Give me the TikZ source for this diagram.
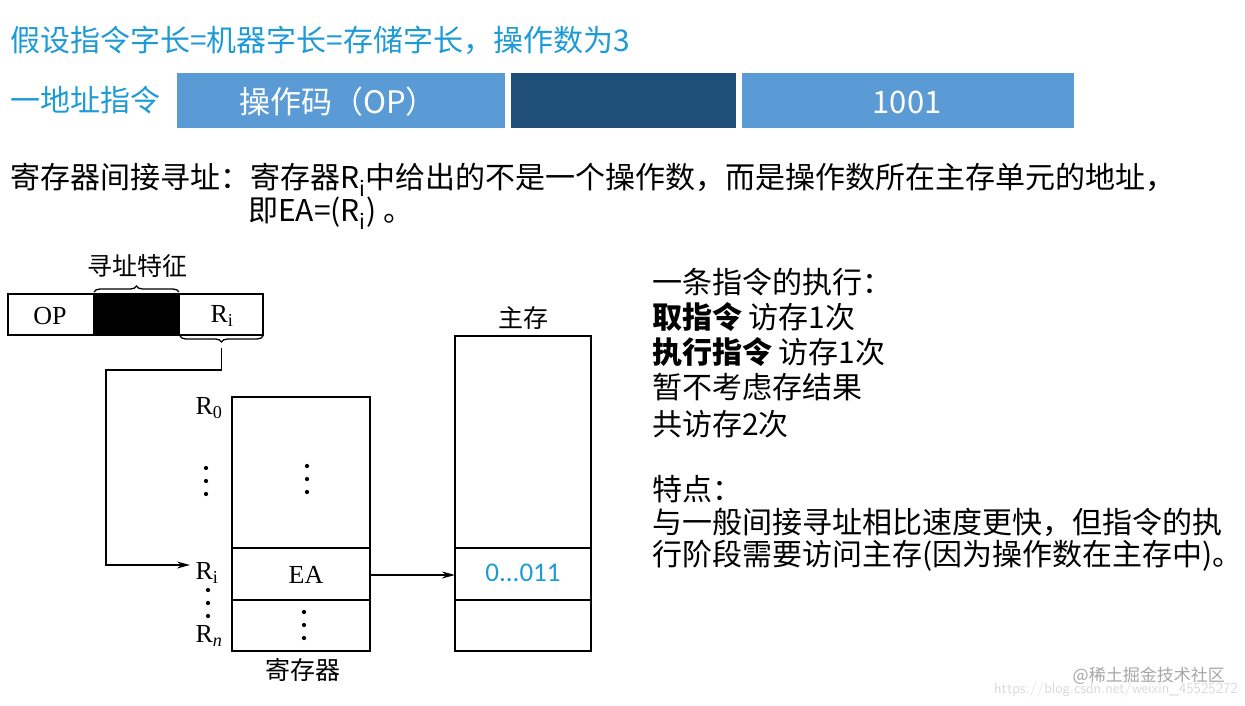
\documentclass[tikz,border=0pt]{standalone}
\usepackage{fontspec}
\setmainfont{Carlito}
\newfontfamily\cjk{Noto Sans CJK SC}
\newfontfamily\tms{Liberation Serif}
\usetikzlibrary{arrows.meta,decorations.pathreplacing}
\definecolor{ttl}{HTML}{1E9BD7}
\definecolor{barA}{HTML}{5B9BD5}
\definecolor{barB}{HTML}{1F4E79}
\tikzset{
  txt/.style={anchor=west,inner sep=0pt,font=\fontsize{30}{34}\selectfont\cjk},
  dg/.style={inner sep=0pt,font=\fontsize{26}{28}\selectfont\tms},
  dgc/.style={inner sep=0pt,font=\fontsize{25}{27}\selectfont\cjk},
  cell/.style={draw,line width=1.4pt},
  bar/.style={inner sep=0pt,text=white,font=\fontsize{31}{33}\selectfont\cjk},
  arr/.style={-{Stealth[length=13pt,width=7pt]},line width=1.3pt},
  dotc/.style={circle,fill,inner sep=1.5pt}
}
\begin{document}
\begin{tikzpicture}[x=1pt,y=-1pt]
\useasboundingbox (0,0) rectangle (1245,706);
% header
\node[txt,text=ttl] (title) at (10,40) {假设指令字长=机器字长=存储字长，操作数为3};
\node[txt,text=ttl] (one) at (10,100) {一地址指令};
\fill[barA] (177,73) rectangle (505,128);
\fill[barB] (511,73) rectangle (736,128);
\fill[barA] (742,73) rectangle (1074,128);
\node[bar] (opb) at (338,102) {操作码（OP）};
\node[bar] (adb) at (907,102) {1001};
\node[txt] (l1) at (10,180) {寄存器间接寻址：寄存器R\textsubscript{i}中给出的不是一个操作数，而是操作数所在主存单元的地址，};
\node[txt] (l2) at (248,213) {即EA=(R\textsubscript{i}) 。};
% instruction
\draw[cell] (8,294) rectangle (263,335);
\fill (93,294) rectangle (180,335);
\node[dg] (op) at (50,316) {OP};
\node[dg] (ri) at (222,316) {R\textsubscript{i}};
\draw[line width=1.3pt,decorate,decoration={brace,amplitude=6pt}] (94,292) -- (179,292);
\node[dgc] (feat) at (137,266) {寻址特征};
\draw[line width=1.3pt,decorate,decoration={brace,amplitude=6pt,mirror}] (180,336) -- (263,336);
\coordinate (bt) at (221.5,348);
% registers
\draw[cell] (232,397) rectangle (370,651);
\draw[cell] (232,548) -- (370,548) (232,600) -- (370,600);
\node[dg] (ea) at (306,575) {EA};
\node[dg] (R0) at (209,408) {R\textsubscript{0}};
\node[dg] (Ri) at (207,573) {R\textsubscript{i}};
\node[dg] (Rn) at (209,636) {R\textsubscript{\textit{n}}};
\node[dgc] (reg) at (303,670) {寄存器};
\foreach \y in {468,481,494} \node[dotc] at (206,\y) {};
\foreach \y in {466,479,492} \node[dotc] at (307,\y) {};
\foreach \y in {590,603,616} \node[dotc] at (208,\y) {};
\foreach \y in {612,625,638} \node[dotc] at (304,\y) {};
\draw[arr] (bt) -- (221.5,370) -- (106,370) -- (106,565) -- (190,565);
% memory
\draw[cell] (455,336) rectangle (591,651);
\draw[cell] (455,548) -- (591,548) (455,600) -- (591,600);
\node[dgc] (mm) at (523,318) {主存};
\node[inner sep=0pt,text=ttl,font=\fontsize{27}{29}\selectfont] (val) at (523,573) {0...011};
\draw[arr] (370,575) -- (455,575);
% right text
\node[txt] (t1) at (652,282) {一条指令的执行：};
\node[txt] (t2) at (652,317) {\textbf{取指令} 访存1次};
\node[txt] (t3) at (652,352) {\textbf{执行指令} 访存1次};
\node[txt] (t4) at (652,387) {暂不考虑存结果};
\node[txt] (t5) at (652,424) {共访存2次};
\node[txt] (t6) at (652,489) {特点：};
\node[txt] (t7) at (652,522) {与一般间接寻址相比速度更快，但指令的执};
\node[txt] (t8) at (652,556) {行阶段需要访问主存(因为操作数在主存中)。};
% watermark
\node[anchor=east,inner sep=0pt,text=black!35,font=\fontsize{17}{19}\selectfont\cjk] (wm1) at (1225,676) {@稀土掘金技术社区};
\node[anchor=east,inner sep=0pt,text=black!15,font=\fontsize{15}{17}\selectfont\sffamily] (wm2) at (1238,690) {https://blog.csdn.net/weixin\_45525272};
\end{tikzpicture}
\end{document}
